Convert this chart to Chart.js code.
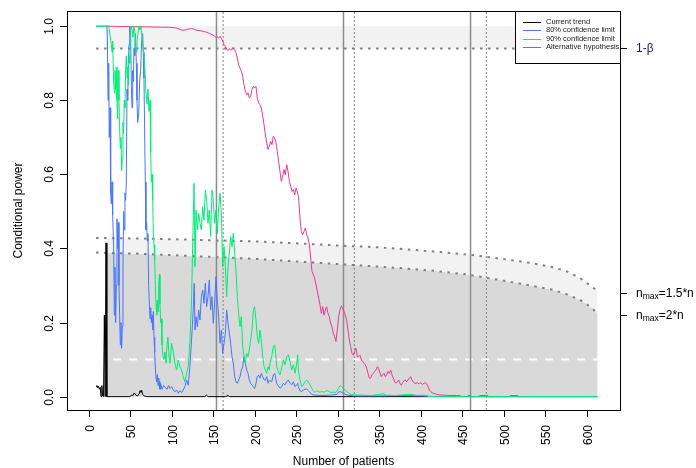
<!DOCTYPE html>
<html>
<head>
<meta charset="utf-8">
<script src="https://cdn.jsdelivr.net/npm/chart.js@4.4.0/dist/chart.umd.min.js"></script>
<style>
  html, body { margin: 0; padding: 0; background: #fff; }
  canvas { display: block; }
</style>
</head>
<body>
<canvas id="power-chart" width="696" height="468"></canvas>
<script>
// [patients, conditional power]
const currentTrend = [
  [9, 0.027], [10, 0.03], [11, 0.024], [12, 0.028], [13, 0.02], [14, 0.025], [15, 0], [16, 0.03],
  [17, 0.002], [18, 0], [19, 0.22], [20, 0], [21, 0.415], [22, 0], [50, 0], [52, 0.005], [53, 0.002],
  [55, 0.01], [57, 0.004], [59, 0.002], [61, 0.008], [62, 0.016], [63, 0.012], [64, 0.017], [65, 0.006],
  [67, 0.002], [70, 0], [140, 0], [142, 0.004], [144, 0], [165, 0], [168, 0.003], [170, 0], [409, 0]
]

const limit80 = [
  [9, 1], [22, 1], [22.6, 0.97], [23.4, 0.8], [24.2, 0.9], [24.9, 0.7], [25.8, 0.78], [26.6, 0.55],
  [27.4, 0.52], [28.2, 0.58], [29, 0.49], [30.2, 0.4], [31, 0.22], [31.8, 0.35], [32.6, 0.2], [33.4, 0.3],
  [34.2, 0.48], [35, 0.4], [35.8, 0.47], [36.6, 0.3], [37.4, 0.22], [38.2, 0.14], [39, 0.2], [39.8, 0.13],
  [40.6, 0.19], [41.4, 0.35], [42.2, 0.5], [43, 0.45], [43.8, 0.55], [44.6, 0.53], [45.4, 0.58], [46.3, 0.83],
  [47.1, 0.8], [47.9, 0.9], [48.7, 0.95], [49.5, 1], [50.7, 0.97], [51.5, 0.84], [52.3, 0.78], [53.1, 0.88],
  [53.9, 0.85], [54.7, 0.94], [55.5, 0.92], [56.3, 0.98], [57.5, 0.9], [58.3, 0.8], [59.1, 0.74], [60.3, 0.76],
  [61.5, 0.85], [62.7, 0.88], [63.9, 0.96], [65.1, 0.98], [65.9, 0.93], [66.7, 0.86], [67.5, 0.72], [68.3, 0.58],
  [69.1, 0.45], [69.9, 0.47], [70.7, 0.42], [71.5, 0.44], [72.3, 0.3], [73.2, 0.25], [74, 0.21], [74.8, 0.24],
  [75.6, 0.2], [76.4, 0.22], [77.2, 0.18], [78, 0.23], [78.8, 0.16], [79.6, 0.12], [80.4, 0.08], [81.2, 0.05],
  [82, 0.04], [82.8, 0.06], [83.6, 0.03], [84.4, 0.05], [85.2, 0.04], [86, 0.02], [86.8, 0.035], [88.4, 0.02],
  [90.4, 0.03], [92.4, 0.025], [94.4, 0.02], [96.4, 0.03], [98, 0.022], [100, 0.027], [102, 0.018], [104, 0.013],
  [106, 0.018], [108, 0.009], [110, 0.016], [112, 0.011], [114, 0.018], [116, 0.027], [118, 0.045], [120, 0.031],
  [122, 0.081], [124, 0.153], [126, 0.234], [127.2, 0.306], [128.2, 0.18], [129.4, 0.216], [131, 0.189],
  [132.6, 0.234], [134.2, 0.207], [135.8, 0.27], [137.4, 0.288], [139, 0.252], [140.6, 0.306], [142.2, 0.243],
  [143.8, 0.27], [145.4, 0.315], [147, 0.234], [148.6, 0.27], [150.2, 0.198], [151.8, 0.252], [153.4, 0.324],
  [155, 0.261], [156.7, 0.216], [158.3, 0.144], [159.9, 0.18], [161.5, 0.117], [163.1, 0.144], [164.7, 0.171],
  [166.3, 0.234], [167.9, 0.198], [169.5, 0.171], [171.1, 0.144], [172.7, 0.108], [174.3, 0.09], [175.9, 0.054],
  [177.5, 0.04], [179.1, 0.036], [180.7, 0.045], [182.4, 0.054], [184, 0.072], [185.6, 0.081], [187.2, 0.108],
  [188.8, 0.09], [190.4, 0.072], [192, 0.063], [193.6, 0.045], [195.2, 0.036], [196.8, 0.031], [198.4, 0.027],
  [200, 0.022], [201.6, 0.036], [203.2, 0.054], [204.8, 0.058], [206.4, 0.05], [208, 0.063], [209.7, 0.054],
  [211.3, 0.045], [212.9, 0.045], [214.5, 0.054], [216.1, 0.036], [217.7, 0.045], [220.5, 0.04], [222.5, 0.059],
  [224.1, 0.063], [225.3, 0.05], [226.5, 0.036], [228.5, 0.029], [230.5, 0.023], [232.6, 0.027], [234.6, 0.036],
  [236.6, 0.032], [238.6, 0.04], [240.6, 0.045], [242.6, 0.036], [244.6, 0.032], [246.6, 0.04], [248.6, 0.027],
  [250.6, 0.032], [251.8, 0.036], [252.6, 0.027], [254.6, 0.016], [256.6, 0.014], [258.7, 0.018], [260.7, 0.02],
  [262.7, 0.021], [264.7, 0.016], [266.7, 0.011], [268.7, 0.007], [270.7, 0.0045], [280, 0.003], [290, 0.004],
  [298.8, 0.006], [300.8, 0.012], [302.8, 0.0135], [304.8, 0.012], [306.8, 0.009], [310.8, 0.0045], [320, 0.002],
  [350, 0.002], [380, 0.003], [400, 0.002], [420, 0], [613, 0]
]

const limit90 = [
  [9, 1], [24.2, 1], [24.9, 0.99], [26.2, 0.97], [27.4, 0.95], [28.2, 0.93], [29, 0.96], [30.2, 0.85],
  [31, 0.82], [31.8, 0.88], [32.6, 0.83], [33.4, 0.89], [34.2, 0.8], [35, 0.75], [35.8, 0.88], [36.6, 0.8],
  [37.4, 0.72], [38.2, 0.67], [39, 0.7], [39.8, 0.61], [40.6, 0.64], [41.4, 0.74], [42.2, 0.71], [43, 0.8],
  [43.8, 0.78], [44.6, 0.88], [45.4, 0.92], [46.3, 0.86], [47.1, 0.89], [47.9, 0.84], [48.7, 0.92], [49.5, 0.9],
  [50.3, 0.97], [51.1, 1], [52.3, 0.99], [53.5, 0.97], [54.7, 1], [55.9, 0.98], [57.1, 0.93], [58.3, 0.96],
  [59.5, 0.98], [60.7, 1], [61.9, 0.99], [63.1, 1], [64.3, 0.97], [65.5, 0.94], [66.7, 0.92], [67.9, 0.88],
  [69.1, 0.82], [70.3, 0.79], [71.5, 0.83], [72.7, 0.77], [74, 0.8], [74.8, 0.66], [75.6, 0.58], [76.4, 0.6],
  [77.2, 0.53], [78, 0.44], [78.8, 0.41], [79.6, 0.37], [80.4, 0.3], [81.2, 0.25], [82, 0.22], [82.8, 0.26],
  [83.6, 0.23], [84.4, 0.3], [85.2, 0.33], [86, 0.25], [86.8, 0.2], [87.6, 0.21], [88.4, 0.14], [89.6, 0.11],
  [90.8, 0.1], [92, 0.12], [93.2, 0.09], [94.4, 0.14], [95.6, 0.16], [96.8, 0.11], [98, 0.09], [100, 0.144],
  [102, 0.12], [104, 0.09], [106, 0.072], [108, 0.099], [110, 0.081], [112, 0.072], [114, 0.054], [116, 0.04],
  [118, 0.063], [120, 0.081], [122, 0.144], [124, 0.261], [126, 0.477], [127, 0.576], [128.2, 0.351],
  [129.4, 0.504], [131, 0.45], [132.6, 0.495], [134.2, 0.468], [135.8, 0.45], [137.4, 0.513], [139, 0.477],
  [140.6, 0.558], [142.2, 0.531], [143.8, 0.468], [145.4, 0.504], [147, 0.432], [148.6, 0.558], [150.2, 0.531],
  [151.8, 0.468], [153.4, 0.504], [155, 0.441], [156.7, 0.513], [158.3, 0.549], [159.9, 0.495], [161.5, 0.351],
  [163.1, 0.405], [164.7, 0.351], [166.3, 0.27], [167.9, 0.351], [169.5, 0.387], [171.1, 0.432], [172.7, 0.405],
  [174.3, 0.441], [175.9, 0.387], [177.5, 0.342], [179.1, 0.27], [180.7, 0.225], [182.4, 0.189], [184, 0.216],
  [185.6, 0.135], [187.2, 0.108], [188.8, 0.09], [190.4, 0.117], [192, 0.108], [193.6, 0.126], [195.2, 0.153],
  [196.8, 0.18], [198.4, 0.234], [200, 0.243], [201.6, 0.207], [203.2, 0.162], [204.8, 0.144], [206.4, 0.18],
  [208, 0.153], [209.7, 0.108], [211.3, 0.081], [212.9, 0.072], [214.5, 0.063], [216.1, 0.081], [217.7, 0.072],
  [218.5, 0.09], [220.5, 0.108], [222.5, 0.135], [224.1, 0.14], [225.3, 0.117], [226.5, 0.081], [228.5, 0.068],
  [230.5, 0.059], [232.6, 0.077], [234.6, 0.099], [236.6, 0.086], [238.6, 0.108], [240.6, 0.113], [242.6, 0.095],
  [244.6, 0.072], [246.6, 0.086], [248.6, 0.063], [250.6, 0.09], [251.8, 0.113], [252.6, 0.072], [254.6, 0.045],
  [256.6, 0.027], [258.7, 0.032], [260.7, 0.04], [262.7, 0.045], [264.7, 0.04], [266.7, 0.032], [268.7, 0.0225],
  [270.7, 0.016], [272.7, 0.011], [274.7, 0.016], [276.7, 0.0135], [278.7, 0.012], [280.7, 0.015], [282.7, 0.012],
  [284.7, 0.0135], [286.8, 0.016], [288.8, 0.015], [290.8, 0.0126], [292.8, 0.011], [294.8, 0.0126], [296.8, 0.011],
  [298.8, 0.0135], [300.8, 0.0225], [302.8, 0.03], [304.8, 0.027], [306.8, 0.0225], [308.8, 0.018], [310.8, 0.0135],
  [312.9, 0.011], [314.9, 0.007], [316.9, 0.0054], [320.9, 0.0045], [330, 0.004], [340, 0.003], [350, 0.006],
  [355, 0.008], [358, 0.004], [370, 0.003], [380, 0.005], [390, 0.006], [395, 0.003], [405, 0.004], [411, 0], [613, 0]
]

const altHypothesis = [
  [21, 1], [98, 0.997], [106, 0.995], [110, 0.991], [114, 0.989], [118, 0.991], [122, 0.993], [126, 0.993],
  [130, 0.989], [134, 0.988], [138, 0.986], [142, 0.984], [146, 0.98], [150, 0.976], [153.4, 0.97], [155, 0.97],
  [156.7, 0.968], [158.3, 0.973], [159.9, 0.967], [161.5, 0.96], [163.1, 0.95], [164.7, 0.946], [166.3, 0.937],
  [167.9, 0.934], [169.5, 0.939], [171.1, 0.935], [172.7, 0.94], [174.3, 0.941], [175.9, 0.937], [177.5, 0.928],
  [179.1, 0.914], [180.7, 0.896], [182.4, 0.887], [184, 0.878], [185.6, 0.865], [187.2, 0.842], [188.8, 0.824],
  [190.4, 0.815], [192, 0.82], [193.6, 0.806], [195.2, 0.811], [196.8, 0.829], [198.4, 0.838], [200, 0.833],
  [201.6, 0.838], [203.2, 0.806], [204.8, 0.793], [206.4, 0.788], [208, 0.779], [209.7, 0.757], [211.3, 0.734],
  [212.9, 0.707], [214.5, 0.685], [216.1, 0.667], [217.7, 0.676], [219.3, 0.689], [220.9, 0.68], [222.5, 0.703],
  [224.1, 0.698], [225.7, 0.685], [227.3, 0.662], [228.9, 0.635], [230.5, 0.608], [232.1, 0.581], [233.7, 0.595],
  [235.3, 0.613], [236.9, 0.599], [238.6, 0.626], [240.2, 0.608], [241.8, 0.581], [243.4, 0.568], [245, 0.554],
  [246.6, 0.559], [248.2, 0.545], [249.8, 0.563], [251.4, 0.554], [253, 0.536], [254.6, 0.482], [256.2, 0.446],
  [257.8, 0.437], [259.4, 0.446], [261, 0.455], [262.7, 0.437], [264.3, 0.428], [265.9, 0.41], [267.5, 0.374],
  [269.1, 0.338], [270.7, 0.329], [272.3, 0.32], [273.9, 0.302], [275.5, 0.284], [277.1, 0.266], [278.7, 0.248],
  [280.3, 0.225], [281.9, 0.243], [283.5, 0.22], [285.1, 0.234], [286.7, 0.243], [288.3, 0.225], [289.9, 0.216],
  [291.5, 0.198], [293.1, 0.189], [294.7, 0.171], [296.3, 0.162], [297.9, 0.149], [299.5, 0.18], [301.2, 0.216],
  [302.8, 0.234], [304.4, 0.245], [306, 0.239], [307.6, 0.23], [309.2, 0.22], [310.8, 0.207], [312.4, 0.18],
  [314, 0.153], [315.6, 0.135], [317.2, 0.117], [318.8, 0.112], [320.4, 0.122], [322, 0.131], [323.6, 0.108],
  [325.2, 0.108], [326.9, 0.112], [328.5, 0.099], [330.1, 0.095], [331.7, 0.09], [333.3, 0.086], [334.9, 0.077],
  [336.5, 0.063], [338.1, 0.05], [339.7, 0.05], [341.3, 0.059], [342.9, 0.063], [344.5, 0.068], [346.1, 0.072],
  [347.7, 0.081], [349.3, 0.077], [351, 0.063], [352.5, 0.054], [354.1, 0.059], [355.8, 0.063], [357.4, 0.054],
  [359, 0.059], [360.6, 0.068], [362.2, 0.063], [363.8, 0.072], [365.4, 0.059], [367, 0.05], [368.6, 0.04],
  [370.2, 0.036], [371.8, 0.04], [373.4, 0.045], [375, 0.036], [376.6, 0.031], [378.2, 0.038], [379.8, 0.043],
  [381.5, 0.045], [383.1, 0.04], [384.7, 0.045], [386.3, 0.05], [387.9, 0.054], [389.5, 0.045], [391.1, 0.04],
  [392.7, 0.036], [394.3, 0.036], [395.9, 0.038], [397.5, 0.034], [399.1, 0.038], [400.7, 0.036], [402.3, 0.033],
  [403.9, 0.036], [405.5, 0.038], [407.1, 0.034], [408.8, 0.027], [410.4, 0.018], [412, 0.0135], [413.6, 0.011],
  [415.2, 0.009], [419.2, 0.006], [423.2, 0.0045], [431.2, 0.0036], [447.3, 0.0027], [449, 0], [456, 0],
  [457, 0.003], [460, 0.003], [461, 0], [470, 0], [471, 0.003], [481, 0.003], [482, 0], [507, 0], [508, 0.003],
  [516, 0.003], [517, 0], [613, 0]
]

// futility boundaries for the two maximum sample sizes
const boundMax15 = [
  [9, 0.428], [20, 0.428], [60, 0.427], [100, 0.425], [150, 0.422], [200, 0.419], [250, 0.414], [300, 0.408],
  [350, 0.403], [375, 0.399], [415, 0.392], [455, 0.384], [495, 0.373], [535, 0.36], [560, 0.349], [576, 0.338],
  [592, 0.32], [604, 0.3], [613, 0.285]
]
const boundMax20 = [
  [9, 0.389], [20, 0.388], [60, 0.386], [100, 0.382], [150, 0.377], [200, 0.372], [250, 0.365], [300, 0.358],
  [350, 0.351], [375, 0.347], [415, 0.34], [455, 0.33], [495, 0.315], [535, 0.299], [560, 0.288], [576, 0.276],
  [592, 0.261], [604, 0.243], [613, 0.225]
]

const interimLooks = [154, 307, 460]
const finalLooks = [162, 320, 479]
const firstLook = 20
const lastPatient = 613
const powerTarget = 0.94
const futilityLine = 0.1

const xTicks = [0, 50, 100, 150, 200, 250, 300, 350, 400, 450, 500, 550, 600]
const yTicks = [0, 0.2, 0.4, 0.6, 0.8, 1.0]
const xRange = [-26, 640]
const yRange = [-0.036, 1.041]

const FONT = '"Liberation Sans", Arial, sans-serif'
const NONE = 'rgba(0,0,0,0)'

const toPoints = pairs => pairs.map(p => ({ x: p[0], y: p[1] }))
const fromLook = pairs => pairs.filter(p => p[0] >= firstLook)

function series(pairs, color, extra) {
  return Object.assign({
    data: toPoints(pairs),
    borderColor: color,
    backgroundColor: NONE,
    borderWidth: 1,
    pointRadius: 0,
    fill: false,
    tension: 0
  }, extra)
}

function vertical(n, color, dash, width) {
  return series([[n, yRange[0]], [n, yRange[1]]], color, { borderDash: dash, borderWidth: width, order: 20 })
}

const datasets = [
  series(fromLook(boundMax20), NONE, { fill: 'origin', backgroundColor: '#d9d9d9', order: 50 }),
  series(fromLook(boundMax15), NONE, { fill: '-1', backgroundColor: '#f2f2f2', order: 49 }),
  series([[firstLook, powerTarget], [lastPatient, powerTarget]], NONE, { order: 48 }),
  series([[firstLook, 1], [lastPatient, 1]], NONE, { fill: '-1', backgroundColor: '#f2f2f2', order: 47 }),
  series([[xRange[0], futilityLine], [lastPatient, futilityLine]], '#ffffff',
    { borderWidth: 2, borderDash: [8, 8], borderDashOffset: 2, order: 40 }),
  series(boundMax15, '#808080', { borderWidth: 2, borderDash: [2.5, 5.5], order: 30 }),
  series(boundMax20, '#808080', { borderWidth: 2, borderDash: [2.5, 5.5], order: 30 }),
  series([[9, powerTarget], [xRange[1], powerTarget]], '#808080', { borderWidth: 2, borderDash: [2.5, 5.5], order: 30 }),
  ...interimLooks.map(n => vertical(n, '#8c8c8c', [], 1.5)),
  ...finalLooks.map(n => vertical(n, '#808080', [2, 2], 1)),
  series(altHypothesis, '#ee3a8c', { order: 4 }),
  series(currentTrend, '#000000', { order: 3 }),
  series(limit80, '#4876ff', { order: 2 }),
  series(limit90, '#00ee76', { order: 1 })
]

const legendItems = [
  ['Current trend', '#000000'],
  ['80% confidence limit', '#4876ff'],
  ['90% confidence limit', '#00ee76'],
  ['Alternative hypothesis', '#ee3a8c']
]

const rightMarks = [
  { value: powerTarget, text: '1-β' },
  { value: 0.28, text: 'n', sub: 'max', rest: '=1.5*n' },
  { value: 0.22, text: 'n', sub: 'max', rest: '=2*n' }
]

function rotatedText(ctx, text, x, y, align) {
  ctx.save()
  ctx.translate(x, y)
  ctx.rotate(-Math.PI / 2)
  ctx.textAlign = align
  ctx.fillText(text, 0, 0)
  ctx.restore()
}

const frame = {
  id: 'frame',
  beforeDraw(chart) {
    const ctx = chart.ctx
    ctx.save()
    ctx.fillStyle = '#ffffff'
    ctx.fillRect(0, 0, chart.width, chart.height)
    ctx.restore()
  },
  afterDraw(chart) {
    const { ctx, chartArea: a, scales: { x, y } } = chart
    ctx.save()
    ctx.strokeStyle = '#000'
    ctx.lineWidth = 1
    ctx.strokeRect(a.left + 0.5, a.top + 0.5, a.right - a.left, a.bottom - a.top)

    ctx.fillStyle = '#000'
    ctx.font = '12px ' + FONT
    ctx.textBaseline = 'alphabetic'

    // bottom axis
    xTicks.forEach(t => {
      const px = Math.round(x.getPixelForValue(t)) + 0.5
      ctx.beginPath()
      ctx.moveTo(px, a.bottom)
      ctx.lineTo(px, a.bottom + 7)
      ctx.stroke()
      ctx.save()
      ctx.translate(px + 4.3, a.bottom + 15)
      ctx.rotate(-Math.PI / 2)
      ctx.textAlign = 'right'
      ctx.fillText(String(t), 0, 0)
      ctx.restore()
    })

    // left axis
    yTicks.forEach(t => {
      const py = Math.round(y.getPixelForValue(t)) + 0.5
      ctx.beginPath()
      ctx.moveTo(a.left - 7, py)
      ctx.lineTo(a.left, py)
      ctx.stroke()
      rotatedText(ctx, t.toFixed(1), a.left - 14, py, 'center')
    })

    rotatedText(ctx, 'Conditional power', 21.5, (a.top + a.bottom) / 2, 'center')
    ctx.textAlign = 'center'
    ctx.fillText('Number of patients', (a.left + a.right) / 2, 465)

    // right axis
    ctx.textBaseline = 'middle'
    rightMarks.forEach(m => {
      const py = Math.round(y.getPixelForValue(m.value)) + 0.5
      ctx.beginPath()
      ctx.moveTo(a.right, py)
      ctx.lineTo(a.right + 7, py)
      ctx.stroke()
      let tx = a.right + 16
      ctx.textAlign = 'left'
      ctx.font = '12px ' + FONT
      ctx.fillStyle = m.sub ? '#000' : '#2b1866'
      ctx.fillText(m.text, tx, py)
      if (m.sub) {
        tx += ctx.measureText(m.text).width
        ctx.font = '8.5px ' + FONT
        ctx.fillText(m.sub, tx, py + 3.5)
        tx += ctx.measureText(m.sub).width
        ctx.font = '12px ' + FONT
        ctx.fillText(m.rest, tx, py)
      }
    })

    // legend
    const lx = 515, ly = a.top, lw = a.right - 515, lh = 52
    ctx.fillStyle = '#fff'
    ctx.fillRect(lx, ly, lw, lh)
    ctx.strokeStyle = '#000'
    ctx.strokeRect(lx + 0.5, ly + 0.5, lw, lh)
    ctx.font = '7.5px ' + FONT
    ctx.textAlign = 'left'
    ctx.textBaseline = 'middle'
    legendItems.forEach((item, i) => {
      const ry = ly + 10.5 + i * 8.6
      ctx.strokeStyle = item[1]
      ctx.beginPath()
      ctx.moveTo(lx + 8, Math.round(ry) + 0.5)
      ctx.lineTo(lx + 26, Math.round(ry) + 0.5)
      ctx.stroke()
      ctx.fillStyle = '#222'
      ctx.fillText(item[0], lx + 31, ry)
    })
    ctx.restore()
  }
}

new Chart(document.getElementById('power-chart').getContext('2d'), {
  type: 'line',
  data: { datasets: datasets },
  options: {
    responsive: false,
    animation: false,
    events: [],
    layout: { padding: { left: 67, top: 11, right: 76, bottom: 58 } },
    scales: {
      x: { type: 'linear', min: xRange[0], max: xRange[1], display: false },
      y: { type: 'linear', min: yRange[0], max: yRange[1], display: false }
    },
    plugins: {
      legend: { display: false },
      tooltip: { enabled: false }
    }
  },
  plugins: [frame]
})
</script>
</body>
</html>
